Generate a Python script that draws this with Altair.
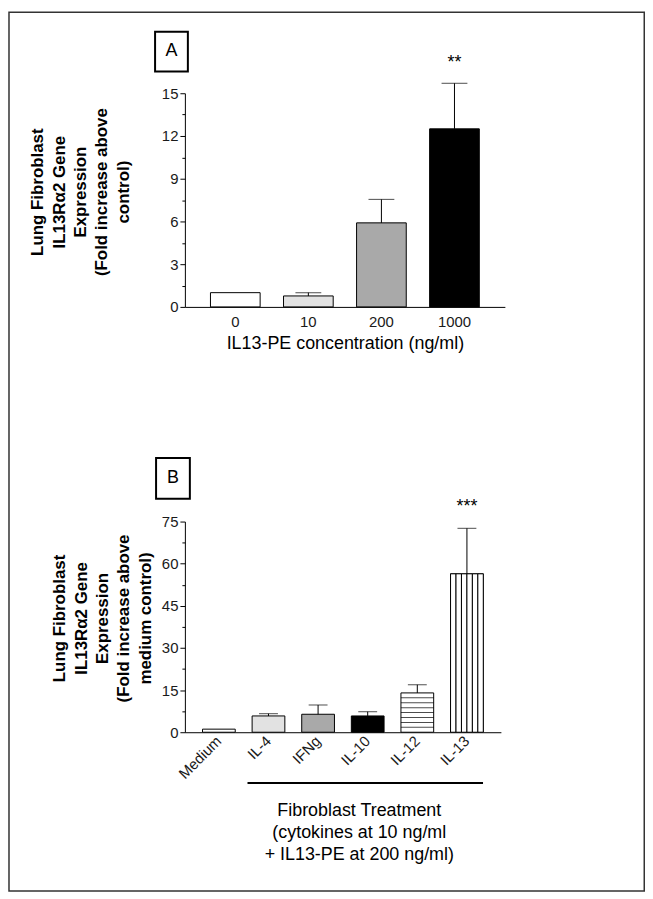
import altair as alt
import pandas as pd

FONT = "Liberation Sans, Arial, Helvetica, sans-serif"

# ---------------- Panel A data ----------------
a_cats = ["0", "10", "200", "1000"]
a_vals = [1.0, 0.77, 5.9, 12.5]
a_errs = [None, 1.0, 7.55, 15.7]
a_sig = ["", "", "", "**"]
a_fill = ["#ffffff", "#e2e2e2", "#a9a9a9", "#000000"]
a_ticks = [0, 1.5, 3, 4.5, 6, 7.5, 9, 10.5, 12, 13.5, 15]
a_ytitle = ["Lung Fibroblast", "IL13R\u03b12 Gene", "Expression",
            "(Fold increase above", "control)"]
a_xtitle = "IL13-PE concentration (ng/ml)"

# ---------------- Panel B data ----------------
b_cats = ["Medium", "IL-4", "IFNg", "IL-10", "IL-12", "IL-13"]
b_vals = [1.1, 5.8, 6.4, 5.8, 14.0, 56.4]
b_errs = [None, 6.6, 9.7, 7.3, 16.9, 72.6]
b_sig = ["", "", "", "", "", "***"]
b_fill = ["#e4e4e4", "#d6d6d6", "#a4a4a4", "#000000", "#ffffff", "#ffffff"]
b_ticks = [0, 7.5, 15, 22.5, 30, 37.5, 45, 52.5, 60, 67.5, 75]
b_ytitle = ["Lung Fibroblast", "IL13R\u03b12 Gene", "Expression",
            "(Fold increase above", "medium control)"]
b_xtitle = ["Fibroblast Treatment", "(cytokines at 10 ng/ml",
            "+ IL13-PE at 200 ng/ml)"]

a_df = pd.DataFrame({"cat": a_cats, "val": a_vals, "err": a_errs, "sig": a_sig})
b_df = pd.DataFrame({"cat": b_cats, "val": b_vals, "err": b_errs, "sig": b_sig})

# fill patterns (styling only): vertical stripes on IL-13, horizontal on IL-12
i13 = b_cats.index("IL-13")
vstripes = pd.DataFrame({"cat": ["IL-13"] * 6, "sub": [str(k) for k in range(6)],
                         "val": [b_vals[i13]] * 6})
i12 = b_cats.index("IL-12")
hstripes = pd.DataFrame({"cat": ["IL-12"] * 7,
                         "val": [b_vals[i12] * k / 8 for k in range(1, 8)]})

one = pd.DataFrame({"k": [1]})

# ---------------- Panel A ----------------
a_xscale = alt.Scale(domain=a_cats, paddingInner=0.32, paddingOuter=0.35)
a_xaxis = alt.Axis(title=a_xtitle, labelAngle=0, ticks=False, tickSize=0,
                   labelPadding=8, labelFontSize=15, titleFontSize=18,
                   titleFontWeight="normal", titleY=37, titleBaseline="middle")
a_yscale = alt.Scale(domain=[0, 15], nice=False, zero=True)
a_yaxis = alt.Axis(values=a_ticks, title=a_ytitle,
                   labelExpr="datum.value % 3 === 0 ? datum.label : ''",
                   tickSize={"condition": {"test": "datum.value % 3 === 0", "value": 5}, "value": 3},
                   labelPadding=2, labelFontSize=15, titleFontSize=17,
                   titleFontWeight="bold", titleLineHeight=21.5,
                   titleX=-148, titleY=99, titleBaseline="middle")


def ax(f):
    return alt.X(f, sort=a_cats, scale=a_xscale, axis=a_xaxis)


def ay(f):
    return alt.Y(f, scale=a_yscale, axis=a_yaxis)


a_base = alt.Chart(a_df)
a_bars = a_base.mark_bar(stroke="black", strokeWidth=1).encode(
    x=ax("cat:N"), y=ay("val:Q"),
    fill=alt.Fill("cat:N", scale=alt.Scale(domain=a_cats, range=a_fill), legend=None))
a_err_line = a_base.transform_filter("isValid(datum.err)").mark_rule(
    color="black", strokeWidth=1).encode(x=ax("cat:N"), y=ay("val:Q"), y2="err:Q")
a_cap = a_base.transform_filter("isValid(datum.err)").mark_tick(
    orient="horizontal", size=26, thickness=1, color="black").encode(
    x=ax("cat:N"), y=ay("err:Q"))
a_star = a_base.transform_filter("datum.sig != ''").mark_text(
    fontSize=18, baseline="alphabetic", dy=-15, color="black").encode(
    x=ax("cat:N"), y=ay("err:Q"), text="sig:N")
a_box = alt.Chart(one).mark_rect(fill="white", stroke="black", strokeWidth=2).encode(
    x=alt.value(-30), x2=alt.value(3), y=alt.value(-62), y2=alt.value(-22))
a_lbl = alt.Chart(one).mark_text(text="A", fontSize=18, baseline="middle",
                                 align="center", color="black").encode(
    x=alt.value(-13.5), y=alt.value(-42))
frame = alt.Chart(one).mark_rect(fillOpacity=0, stroke="#333333", strokeWidth=1.5).encode(
    x=alt.value(-177), x2=alt.value(462.25), y=alt.value(-81.5), y2=alt.value(802.75))

panel_a = alt.layer(frame, a_bars, a_err_line, a_cap, a_star, a_box, a_lbl).properties(
    width=322, height=215)

# ---------------- Panel B ----------------
b_xscale = alt.Scale(domain=b_cats, paddingInner=0.34, paddingOuter=0.355)
b_xaxis = alt.Axis(title=b_xtitle, labelAngle=-45, labelAlign="right",
                   labelBaseline="middle", ticks=False, tickSize=0,
                   labelPadding=6, labelFontSize=15, titleFontSize=18,
                   titleFontWeight="normal", titleLineHeight=22,
                   titleX=175, titleY=79, titleBaseline="middle")
b_yscale = alt.Scale(domain=[0, 75], nice=False, zero=True)
b_yaxis = alt.Axis(values=b_ticks, title=b_ytitle,
                   labelExpr="datum.value % 15 === 0 ? datum.label : ''",
                   tickSize={"condition": {"test": "datum.value % 15 === 0", "value": 5}, "value": 3},
                   labelPadding=2, labelFontSize=15, titleFontSize=17,
                   titleFontWeight="bold", titleLineHeight=21.5,
                   titleX=-126, titleY=97, titleBaseline="middle")


def bx(f):
    return alt.X(f, sort=b_cats, scale=b_xscale, axis=b_xaxis)


def by(f):
    return alt.Y(f, scale=b_yscale, axis=b_yaxis)


b_base = alt.Chart(b_df)
b_bars = b_base.mark_bar(stroke="black", strokeWidth=1).encode(
    x=bx("cat:N"), y=by("val:Q"),
    fill=alt.Fill("cat:N", scale=alt.Scale(domain=b_cats, range=b_fill), legend=None))
b_vs = alt.Chart(vstripes).mark_bar(fill="white", stroke="black", strokeWidth=1).encode(
    x=bx("cat:N"), xOffset=alt.XOffset("sub:N"), y=by("val:Q"))
b_hs = alt.Chart(hstripes).mark_tick(orient="horizontal", size=33, thickness=1,
                                     color="black").encode(x=bx("cat:N"), y=by("val:Q"))
b_err_line = b_base.transform_filter("isValid(datum.err)").mark_rule(
    color="black", strokeWidth=1).encode(x=bx("cat:N"), y=by("val:Q"), y2="err:Q")
b_cap = b_base.transform_filter("isValid(datum.err)").mark_tick(
    orient="horizontal", size=19, thickness=1, color="black").encode(
    x=bx("cat:N"), y=by("err:Q"))
b_star = b_base.transform_filter("datum.sig != ''").mark_text(
    fontSize=18, baseline="alphabetic", dy=-16, color="black").encode(
    x=bx("cat:N"), y=by("err:Q"), text="sig:N")
b_box = alt.Chart(one).mark_rect(fill="white", stroke="black", strokeWidth=2).encode(
    x=alt.value(-29), x2=alt.value(5), y=alt.value(-64), y2=alt.value(-23))
b_lbl = alt.Chart(one).mark_text(text="B", fontSize=18, baseline="middle",
                                 align="center", color="black").encode(
    x=alt.value(-12), y=alt.value(-43.5))
underline = alt.Chart(one).mark_rule(color="black", strokeWidth=2).encode(
    x=alt.value(63), x2=alt.value(300), y=alt.value(263))

panel_b = alt.layer(b_bars, b_vs, b_hs, b_err_line, b_cap, b_star, b_box, b_lbl,
                    underline).properties(width=318, height=212)

chart = alt.vconcat(panel_a, panel_b, spacing=216, bounds="flush").properties(
    padding=0
).configure_axis(
    labelFont=FONT, titleFont=FONT, domainColor="black", tickColor="black",
    labelColor="#1a1a1a", titleColor="black", grid=False, domainWidth=1, tickWidth=1
).configure_view(stroke=None).configure_text(font=FONT)

chart.save("out.html", embed_options={"renderer": "svg", "actions": False})
